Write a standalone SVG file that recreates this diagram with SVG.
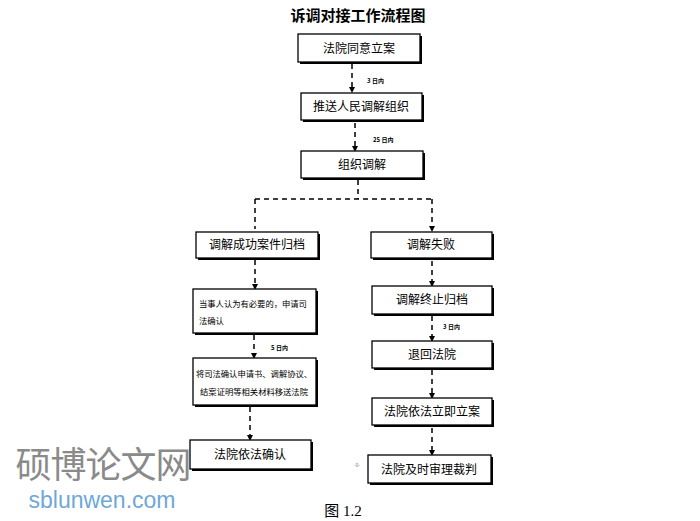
<svg xmlns="http://www.w3.org/2000/svg" width="700" height="521" viewBox="0 0 700 521">
<style>
.b{fill:#fff;stroke:#000;stroke-width:1.3}
.s{fill:#000}
.t{font-family:"Noto Sans CJK SC",sans-serif;font-size:12px;text-anchor:middle;fill:#000}
.ts{font-family:"Noto Sans CJK SC",sans-serif;font-size:8.3px;fill:#000}
.l{font-family:"Noto Sans CJK SC",sans-serif;font-size:6px;font-weight:bold;fill:#000}
.c{fill:none;stroke:#000;stroke-width:1.5;stroke-dasharray:5,4}
</style>
<defs><marker id="a" markerWidth="6" markerHeight="6" refX="3" refY="3" orient="auto" markerUnits="userSpaceOnUse"><path d="M0,0L6,3L0,6z" fill="#000"/></marker></defs>
<rect width="700" height="521" fill="#fff"/>
<text x="358" y="21" font-family="Noto Sans CJK SC,sans-serif" font-size="15" font-weight="bold" text-anchor="middle">诉调对接工作流程图</text>
<g id="connectors">
<path class="c" d="M352,64V90" marker-end="url(#a)"/>
<path class="c" d="M355,123V149" marker-end="url(#a)"/>
<path class="c" d="M358,180V199M255,199H432M255,199V229M432,199V229" marker-end="url(#a)"/>
<path class="c" d="M255,260V287" marker-end="url(#a)"/>
<path class="c" d="M254,335V356" marker-end="url(#a)"/>
<path class="c" d="M250,407V438" marker-end="url(#a)"/>
<path class="c" d="M432,261V284" marker-end="url(#a)"/>
<path class="c" d="M432,316V339" marker-end="url(#a)"/>
<path class="c" d="M432,370V396" marker-end="url(#a)"/>
<path class="c" d="M432,428V453" marker-end="url(#a)"/>
<text class="l" x="367" y="83">3 日内</text>
<text class="l" x="373" y="142">25 日内</text>
<text class="l" x="271" y="350">5 日内</text>
<text class="l" x="443" y="329">3 日内</text>
</g>
<g id="n1"><rect class="s" x="300" y="36" width="122" height="28"/><rect class="b" x="298" y="34" width="122" height="28"/><text class="t" x="359" y="53">法院同意立案</text></g>
<g id="n2"><rect class="s" x="303" y="95" width="121" height="27"/><rect class="b" x="301" y="93" width="121" height="27"/><text class="t" x="361" y="111">推送人民调解组织</text></g>
<g id="n3"><rect class="s" x="303" y="153" width="122" height="27"/><rect class="b" x="301" y="151" width="122" height="27"/><text class="t" x="362" y="169">组织调解</text></g>
<g id="n4"><rect class="s" x="198" y="234" width="122" height="26"/><rect class="b" x="196" y="232" width="122" height="26"/><text class="t" x="257" y="249">调解成功案件归档</text></g>
<g id="n5"><rect class="s" x="195" y="291" width="123" height="44"/><rect class="b" x="193" y="289" width="123" height="44"/><text class="ts" x="199" y="307">当事人认为有必要的，申请司</text><text class="ts" x="199" y="324">法确认</text></g>
<g id="n6"><rect class="s" x="195" y="360" width="123" height="47"/><rect class="b" x="193" y="358" width="123" height="47"/><text class="ts" x="254" y="377" text-anchor="middle">将司法确认申请书、调解协议、</text><text class="ts" x="254" y="395" text-anchor="middle">结案证明等相关材料移送法院</text></g>
<g id="n7"><rect class="s" x="192" y="442" width="121" height="29"/><rect class="b" x="190" y="440" width="121" height="29"/><text class="t" x="250" y="459">法院依法确认</text></g>
<g id="n8"><rect class="s" x="373" y="234" width="121" height="26"/><rect class="b" x="371" y="232" width="121" height="26"/><text class="t" x="431" y="249">调解失败</text></g>
<g id="n9"><rect class="s" x="374" y="288" width="120" height="28"/><rect class="b" x="372" y="286" width="120" height="28"/><text class="t" x="432" y="304">调解终止归档</text></g>
<g id="n10"><rect class="s" x="374" y="343" width="120" height="27"/><rect class="b" x="372" y="341" width="120" height="27"/><text class="t" x="432" y="359">退回法院</text></g>
<g id="n11"><rect class="s" x="374" y="400" width="120" height="27"/><rect class="b" x="372" y="398" width="120" height="27"/><text class="t" x="432" y="416">法院依法立即立案</text></g>
<g id="n12"><rect class="s" x="370" y="457" width="123" height="28"/><rect class="b" x="368" y="455" width="123" height="28"/><text class="t" x="429" y="474">法院及时审理裁判</text></g>
<text x="357" y="467" font-family="Liberation Sans,sans-serif" font-size="5" fill="#888" text-anchor="middle">-9-</text>
<text x="103" y="478" font-family="Noto Sans CJK SC,sans-serif" font-size="36" fill="#8a8a8a" text-anchor="middle" letter-spacing="-1">硕博论文网</text>
<text x="102" y="508" font-family="Liberation Sans,sans-serif" font-size="23" fill="#6fa7d8" text-anchor="middle">sblunwen.com</text>
<text x="343" y="516" font-family="Liberation Serif,Noto Sans CJK SC,serif" font-size="15" text-anchor="middle">图 1.2</text>
</svg>
